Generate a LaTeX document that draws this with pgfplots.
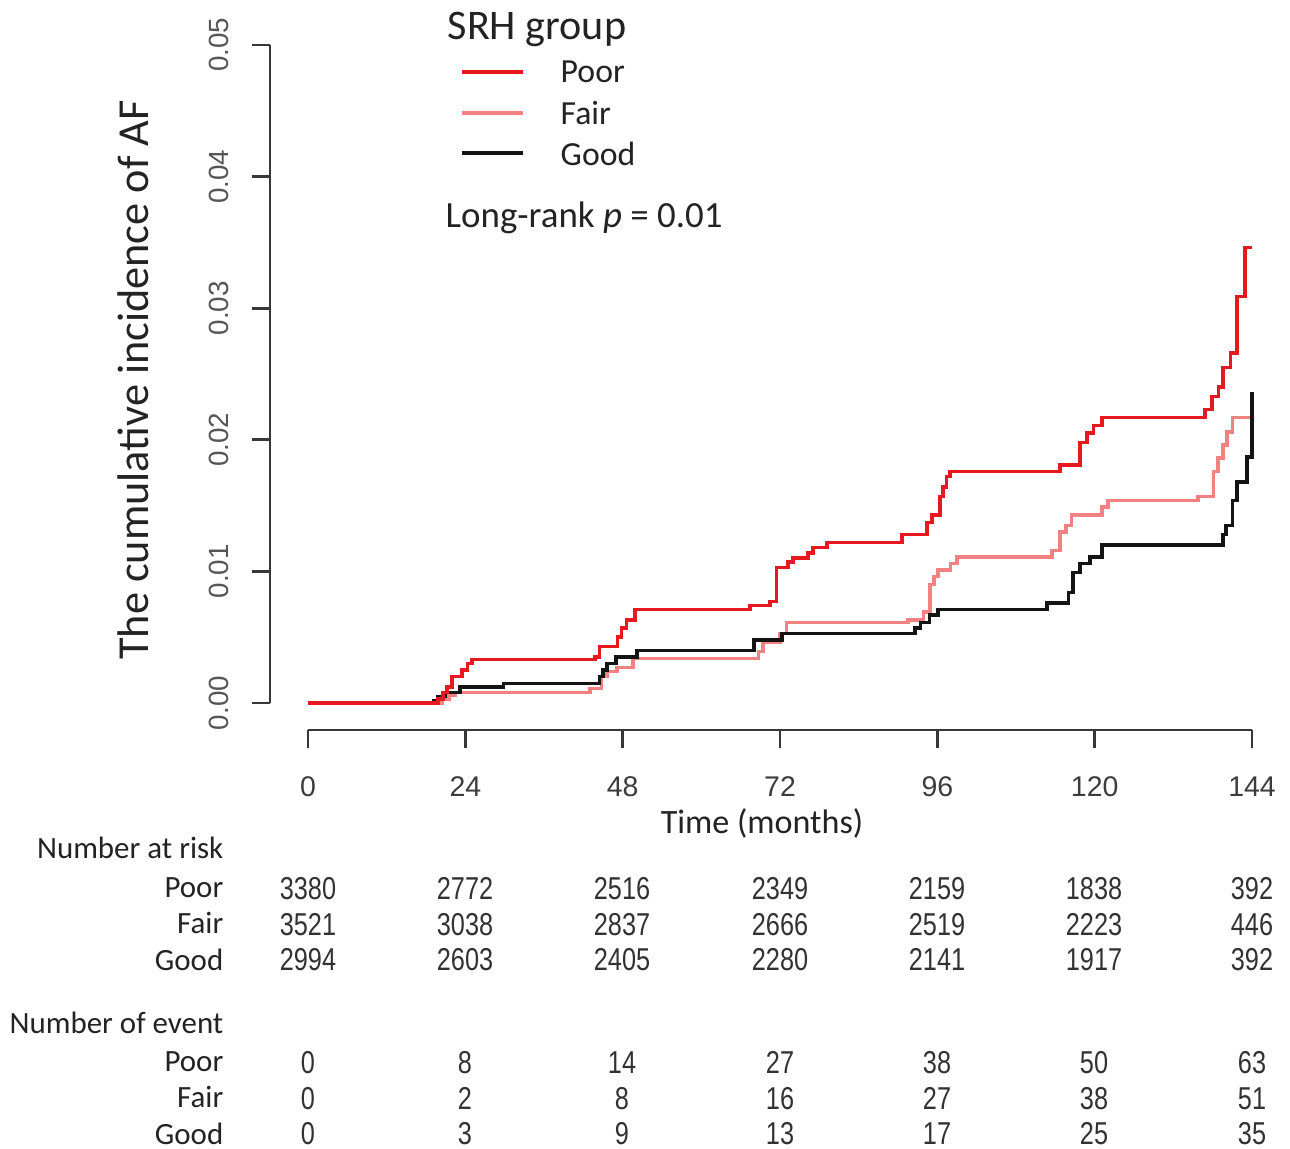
\documentclass[border=0pt]{standalone}
\usepackage{pgfplots}
\pgfplotsset{compat=1.18}
\usepackage{fontspec}
\setmainfont{Carlito}
\newfontfamily\arialf{Liberation Sans}
\newfontfamily\arialn[FakeStretch=0.8]{Liberation Sans}
\definecolor{poorc}{RGB}{232,24,32}
\definecolor{fairc}{RGB}{242,130,130}
\definecolor{goodc}{RGB}{20,20,20}
\definecolor{txtc}{RGB}{35,35,35}
\definecolor{tickc}{RGB}{60,60,60}
\definecolor{ytickc}{RGB}{85,85,85}
\definecolor{numc}{RGB}{50,50,50}
\definecolor{axc}{RGB}{55,55,55}
\begin{document}
\begin{tikzpicture}
\useasboundingbox (0,0) rectangle (129mm,-114.9mm);
\begin{axis}[
  at={(27mm,-73mm)}, anchor=south west,
  scale only axis, width=99.51mm, height=69.82mm,
  xmin=-5.8, xmax=146, ymin=-0.00205, ymax=0.051,
  axis x line*=bottom, axis y line*=left,
  axis line style={draw=none},
  xtick={0,24,48,72,96,120,144},
  ytick={0,0.01,0.02,0.03,0.04,0.05},
  tick align=outside, major tick length=1.75mm,
  tick style={draw=axc, line width=0.75pt},
  scaled y ticks=false,
  /pgf/number format/assume math mode=true,
  tick label style={font=\arialf\fontsize{8.1}{9}\selectfont, text=tickc},
  yticklabel style={rotate=90, anchor=south, yshift=1.1mm, text=ytickc, font=\arialf\fontsize{7.9}{9}\selectfont, /pgf/number format/.cd, fixed, fixed zerofill, precision=2},
  xticklabel style={yshift=-1.7mm},
  clip=false,
]
\draw[axc, line width=0.75pt] (axis cs:0,-0.00205) -- (axis cs:144,-0.00205);
\draw[axc, line width=0.75pt] (axis cs:-5.8,0) -- (axis cs:-5.8,0.05);
% Fair
\addplot[const plot, fairc, line width=1.0pt] coordinates {
(0,0) (20.5,0.0003) (21.5,0.0006) (22.5,0.0008) (43.0,0.0011) (44.8,0.0020) (45.6,0.0024)
(47.1,0.0027) (49.6,0.0034) (68.7,0.0039) (69.4,0.0046) (72.0,0.0053) (73.0,0.0061)
(91.5,0.0063) (93.9,0.0069) (94.9,0.0090) (95.5,0.0096) (96.1,0.0101) (98.0,0.0106)
(99.0,0.0111) (113.5,0.0116) (114.7,0.0130) (115.6,0.0135) (116.5,0.0143) (121.1,0.0149)
(122.0,0.0154) (135.8,0.0157) (138.1,0.0176) (138.8,0.0186) (139.6,0.0196) (140.2,0.0206)
(141.0,0.0217) (144,0.0217)
};
% Good
\addplot[const plot, goodc, line width=1.0pt] coordinates {
(0,0) (19.2,0.0002) (19.8,0.0005) (21.0,0.0008) (23.2,0.0012) (29.8,0.0015) (44.5,0.0020)
(45.0,0.0025) (45.6,0.0030) (47.0,0.0035) (50.2,0.0040) (68.0,0.0048) (72.3,0.0053)
(92.6,0.0057) (93.4,0.0061) (94.8,0.0067) (96.1,0.0071) (112.7,0.0076) (116.0,0.0084)
(116.7,0.0099) (117.8,0.0106) (119.3,0.0111) (121.1,0.0120) (139.6,0.0128) (140.0,0.0135)
(141.0,0.0154) (141.7,0.0168) (143.2,0.0187) (144,0.0236)
};
% Poor
\addplot[const plot, poorc, line width=1.0pt] coordinates {
(0,0) (19.8,0.0003) (20.6,0.0008) (21.2,0.0012) (22.0,0.0020) (23.5,0.0025) (24.3,0.0030)
(25.0,0.0033) (43.8,0.0035) (44.5,0.0043) (47.2,0.0050) (47.8,0.0057) (48.6,0.0063)
(49.9,0.0071) (67.4,0.0074) (70.5,0.0077) (71.5,0.0103) (73.2,0.0107) (74.0,0.0110)
(76.3,0.0114) (77.0,0.0118) (79.2,0.0122) (90.6,0.0128) (94.4,0.0137) (95.2,0.0143)
(96.4,0.0157) (96.9,0.0164) (97.4,0.0172) (97.9,0.0176) (114.7,0.0181) (117.8,0.0198)
(118.8,0.0205) (119.8,0.0211) (121.1,0.0217) (136.8,0.0223) (137.9,0.0233) (138.9,0.0240)
(139.6,0.0255) (140.7,0.0266) (141.7,0.0309) (142.9,0.0346) (144,0.0346)
};
\end{axis}
\begin{scope}[x=0.1mm,y=-0.1mm]
% y label
\node[rotate=90, anchor=base, inner sep=0pt, text=txtc, font=\fontsize{12.6}{14}\selectfont] at (148,380) {The cumulative incidence of AF};
% legend
\node[anchor=base west, inner sep=0pt, text=txtc, font=\fontsize{12}{14}\selectfont] at (447,40) {SRH group};
\draw[poorc, line width=1.0pt] (462,72) -- (523,72);
\draw[fairc, line width=1.0pt] (462,113) -- (523,113);
\draw[goodc, line width=1.0pt] (462,153) -- (523,153);
\node[anchor=base west, inner sep=0pt, text=txtc, font=\fontsize{9.6}{11}\selectfont] at (560,83) {Poor};
\node[anchor=base west, inner sep=0pt, text=txtc, font=\fontsize{9.6}{11}\selectfont] at (560,125) {Fair};
\node[anchor=base west, inner sep=0pt, text=txtc, font=\fontsize{9.6}{11}\selectfont] at (560,166) {Good};
\node[anchor=base west, inner sep=0pt, text=txtc, font=\fontsize{10.5}{12}\selectfont] at (445,227) {Long-rank \textit{p} = 0.01};
% x label
\node[anchor=base, inner sep=0pt, text=txtc, font=\fontsize{9.7}{11}\selectfont] at (762,833) {Time (months)};
% table labels
\tikzset{rl/.style={anchor=base east, inner sep=0pt, text=txtc, font=\fontsize{8.8}{10}\selectfont},
         nm/.style={anchor=base, inner sep=0pt, text=numc, font=\arialn\fontsize{9}{10}\selectfont}}
\node[rl] at (224,858) {Number at risk};
\node[rl] at (224,897) {Poor};
\node[rl] at (224,933) {Fair};
\node[rl] at (224,970) {Good};
\node[rl] at (224,1033) {Number of event};
\node[rl] at (224,1071) {Poor};
\node[rl] at (224,1107) {Fair};
\node[rl] at (224,1144) {Good};
\foreach \xx/\a/\b/\c/\d/\e/\f in {
  308/3380/3521/2994/0/0/0,
  465/2772/3038/2603/8/2/3,
  622/2516/2837/2405/14/8/9,
  780/2349/2666/2280/27/16/13,
  937/2159/2519/2141/38/27/17,
  1094/1838/2223/1917/50/38/25,
  1252/392/446/392/63/51/35}{
  \node[nm] at (\xx,899) {\a};
  \node[nm] at (\xx,935) {\b};
  \node[nm] at (\xx,970) {\c};
  \node[nm] at (\xx,1073) {\d};
  \node[nm] at (\xx,1109) {\e};
  \node[nm] at (\xx,1144) {\f};
}
\end{scope}
\end{tikzpicture}
\end{document}
